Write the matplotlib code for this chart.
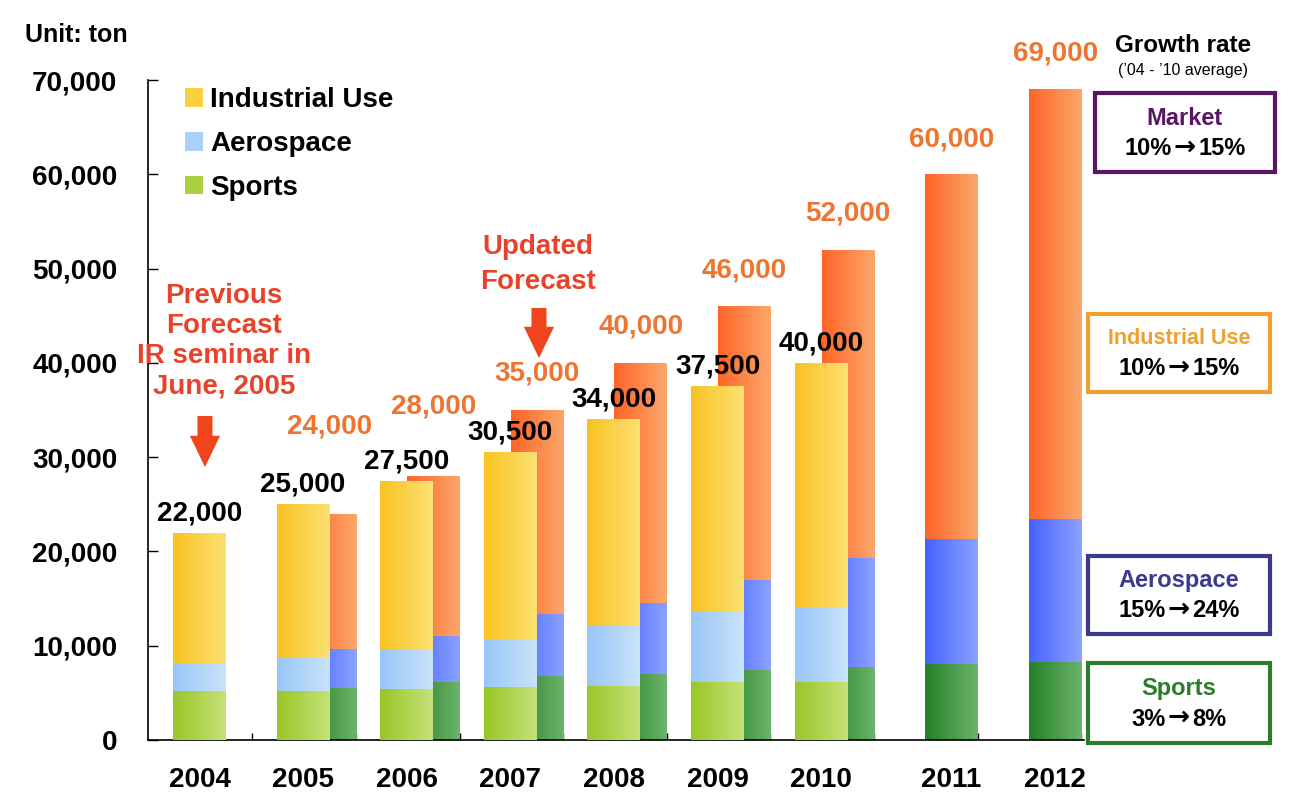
import matplotlib
matplotlib.use('Agg')
import matplotlib.pyplot as plt
import numpy as np
from matplotlib.colors import LinearSegmentedColormap
from matplotlib.patches import Rectangle, Patch, FancyArrowPatch

plt.rcParams['font.family'] = ['Liberation Sans', 'DejaVu Sans']
plt.rcParams['font.weight'] = 'bold'

# datos (toneladas)
years = ['2004', '2005', '2006', '2007', '2008', '2009', '2010', '2011', '2012']
prev_years = ['2004', '2005', '2006', '2007', '2008', '2009', '2010']
prev_sports = [5200, 5200, 5400, 5600, 5700, 6150, 6150]
prev_aero = [2900, 3500, 4150, 5000, 6400, 7550, 7950]
prev_total = [22000, 25000, 27500, 30500, 34000, 37500, 40000]

upd_years = ['2005', '2006', '2007', '2008', '2009', '2010', '2011', '2012']
upd_sports = [5500, 6150, 6800, 7000, 7400, 7750, 8050, 8250]
upd_aero = [4150, 4850, 6600, 7500, 9600, 11550, 13250, 15150]
upd_total = [24000, 28000, 35000, 40000, 46000, 52000, 60000, 69000]

segments = ['Industrial Use', 'Aerospace', 'Sports']
growth_names = ['Market', 'Industrial Use', 'Aerospace', 'Sports']
growth_from = ['10%', '10%', '15%', '3%']
growth_to = ['15%', '15%', '24%', '8%']

W, H = 1292, 808
fig = plt.figure(figsize=(W / 100, H / 100), dpi=100)
ax = fig.add_axes([148 / W, 68 / H, 936 / W, 660 / H])

BW = 0.51
OFF = 0.26
grad = np.linspace(0, 1, 256).reshape(1, -1)


def grad_fill(bars, c0, c1):
    cmap = LinearSegmentedColormap.from_list('g', [c0, c1])
    for b in bars:
        x, y = b.get_xy()
        w, h = b.get_width(), b.get_height()
        im = ax.imshow(grad, cmap=cmap, extent=(x, x + w, y, y + h),
                       aspect='auto', zorder=b.get_zorder(), interpolation='bilinear')
        im.set_clip_path(b)
        b.set_facecolor('none')


px = np.array([years.index(y) for y in prev_years], dtype=float)
ux = np.array([years.index(y) for y in upd_years], dtype=float) + OFF

p_sp = np.array(prev_sports)
p_ae = np.array(prev_aero)
p_in = np.array(prev_total) - p_sp - p_ae
u_sp = np.array(upd_sports)
u_ae = np.array(upd_aero)
u_in = np.array(upd_total) - u_sp - u_ae

# pronostico actualizado (detras)
b = ax.bar(ux, u_sp, BW, color='none', lw=0, zorder=2)
grad_fill(b, '#238023', '#6db46d')
b = ax.bar(ux, u_ae, BW, bottom=u_sp, color='none', lw=0, zorder=2)
grad_fill(b, '#4563ff', '#8ca2ff')
b = ax.bar(ux, u_in, BW, bottom=u_sp + u_ae, color='none', lw=0, zorder=2)
grad_fill(b, '#ff6526', '#fba76c')

# pronostico anterior (delante)
b = ax.bar(px, p_sp, BW, color='none', lw=0, zorder=3)
grad_fill(b, '#98c626', '#c6e27a')
b = ax.bar(px, p_ae, BW, bottom=p_sp, color='none', lw=0, zorder=3)
grad_fill(b, '#98c6f8', '#cae3fb')
b = ax.bar(px, p_in, BW, bottom=p_sp + p_ae, color='none', lw=0, zorder=3)
grad_fill(b, '#f8c322', '#fce172')

ax.set_xlim(-0.497, 8.538)
ax.set_ylim(0, 70000)
ax.set_yticks(range(0, 70001, 10000))
ax.set_yticklabels(['{:,}'.format(v) for v in range(0, 70001, 10000)], fontsize=20)
ax.tick_params(axis='y', direction='in', length=7, width=1, pad=22)
ax.set_xticks(np.arange(len(years)) + 0.51)
ax.set_xticklabels([])
ax.tick_params(axis='x', direction='in', length=5, width=1)
for s in ['top', 'right']:
    ax.spines[s].set_visible(False)
for s in ['left', 'bottom']:
    ax.spines[s].set_linewidth(1.2)

# etiquetas de años
for i, y in enumerate(years):
    xx = i if y in prev_years else i + OFF
    ax.text(xx, -0.061, y, transform=ax.get_xaxis_transform(),
            ha='center', va='center', fontsize=20)

# valores
for xx, v in zip(px, prev_total):
    ax.annotate('{:,}'.format(v), (xx, v), xytext=(0, 9), textcoords='offset points',
                ha='center', va='baseline', fontsize=20, color='black', zorder=5)
orange_off = [63, 50, 26, 26, 26, 26, 25, 26]
for xx, v, o in zip(ux, upd_total, orange_off):
    ax.annotate('{:,}'.format(v), (xx, v), xytext=(0, o), textcoords='offset points',
                ha='center', va='center', fontsize=20, color='#ee7430',
                annotation_clip=False, zorder=5)

# anotaciones
RED = '#e8432a'
ax.text(0.236, 42300, 'Previous\nForecast\nIR seminar in\nJune, 2005', ha='center', va='center',
        fontsize=20, color=RED, linespacing=1.22, zorder=6)
ax.text(3.267, 50400, 'Updated\nForecast', ha='center', va='center',
        fontsize=20, color=RED, linespacing=1.45, zorder=6)
for x0, y0, y1 in [(0.053, 34360, 28950), (3.277, 45820, 40510)]:
    ax.add_patch(FancyArrowPatch((x0, y0), (x0, y1),
                                 arrowstyle='simple,head_length=1.5,head_width=1.45,tail_width=0.72',
                                 mutation_scale=15, color='#f0441c', lw=0, zorder=6,
                                 shrinkA=0, shrinkB=0))

# leyenda
handles = [Patch(facecolor='#fad043', label=segments[0]),
           Patch(facecolor='#abd0f8', label=segments[1]),
           Patch(facecolor='#acd042', label=segments[2])]
ax.legend(handles=handles, loc='upper left', bbox_to_anchor=(0.040, 0.989),
          frameon=False, fontsize=20, handlelength=0.65, handleheight=0.65,
          handletextpad=0.25, labelspacing=0.64, borderpad=0, borderaxespad=0)

# texto y cajas a la derecha
fig.text(25 / W, 1 - 35 / H, 'Unit: ton', fontsize=18, ha='left', va='center')
fig.text(1183 / W, 1 - 45 / H, 'Growth rate', fontsize=17.5, ha='center', va='center')
fig.text(1183 / W, 1 - 71 / H, "(\u201904 - \u201910 average)", fontsize=11.5,
         fontweight='normal', ha='center', va='center')

boxes = [(1095, 93, 1275, 172, '#5b1566', 17),
         (1088, 314, 1270, 392, '#f0a030', 15.5),
         (1088, 556, 1270, 634, '#3c3a8c', 17),
         (1088, 663, 1270, 743, '#2a7d2a', 17)]
for (x0, y0, x1, y1, col, fs), name, r0, r1 in zip(boxes, growth_names, growth_from, growth_to):
    fig.add_artist(Rectangle((x0 / W, 1 - y1 / H), (x1 - x0) / W, (y1 - y0) / H,
                             transform=fig.transFigure, facecolor='white',
                             edgecolor=col, lw=3))
    cx = (x0 + x1) / 2
    h = y1 - y0
    fig.text(cx / W, 1 - (y0 + 0.32 * h) / H, name, color=col, fontsize=fs,
             ha='center', va='center')
    yr = 1 - (y0 + 0.7 * h) / H
    fig.text((cx - 13) / W, yr, r0, color='black', fontsize=17, ha='right', va='center')
    fig.text(cx / W, yr + 1 / H, '\u2192', color='black', fontsize=19, family='DejaVu Sans',
             ha='center', va='center')
    fig.text((cx + 13) / W, yr, r1, color='black', fontsize=17, ha='left', va='center')

plt.savefig('out.png', dpi=100, facecolor='white')
